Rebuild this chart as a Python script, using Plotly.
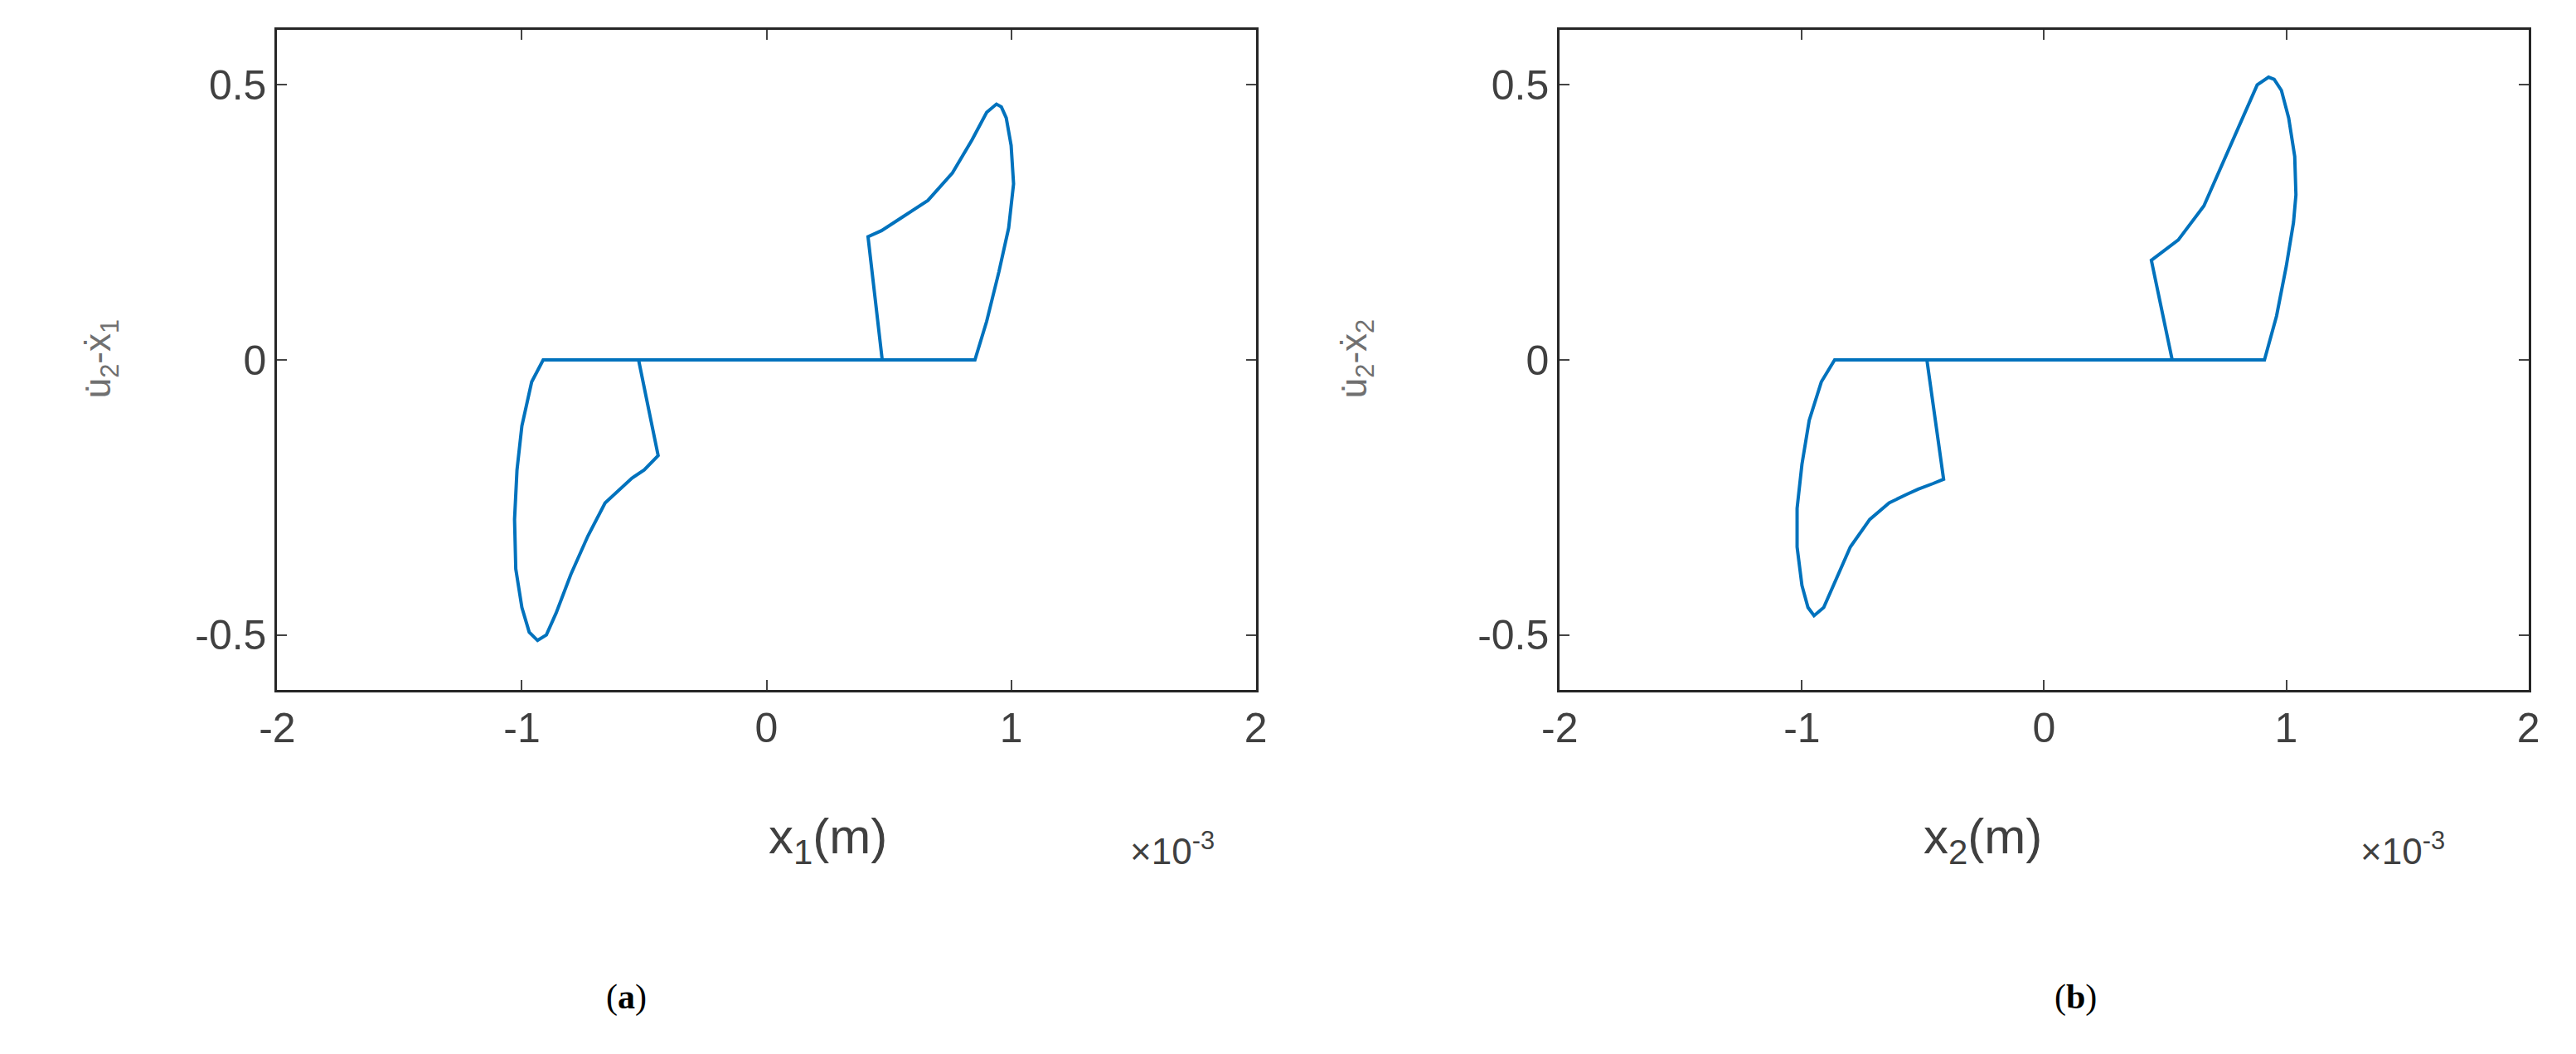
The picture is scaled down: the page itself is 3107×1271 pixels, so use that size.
import plotly.graph_objects as go

# trajectory points, x in units of 1e-3 m
x1 = [-0.52, -0.913, -0.96, -1.0, -1.02, -1.03, -1.025, -1.0, -0.97, -0.936, -0.9, -0.86, -0.8, -0.73,
      -0.66, -0.6, -0.55, -0.5, -0.443, -0.523, -0.523, 0.852, 0.9, 0.95, 0.99, 1.01, 1.0, 0.98,
      0.96, 0.94, 0.9, 0.84, 0.76, 0.66, 0.557, 0.47, 0.415, 0.473, 0.473, 0.852]
y1 = [0, 0, -0.04, -0.12, -0.2, -0.29, -0.38, -0.45, -0.495, -0.51, -0.5, -0.46, -0.39, -0.32,
      -0.26, -0.235, -0.215, -0.2, -0.174, 0, 0, 0, 0.07, 0.16, 0.24, 0.32, 0.39, 0.44,
      0.46, 0.465, 0.45, 0.4, 0.34, 0.29, 0.26, 0.235, 0.224, 0, 0, 0]
x2 = [-0.484, -0.865, -0.92, -0.97, -1.0, -1.02, -1.02, -1.0, -0.975, -0.95, -0.91, -0.86, -0.8,
      -0.72, -0.64, -0.57, -0.52, -0.46, -0.415, -0.484, -0.484, 0.91, 0.96, 1.0, 1.03, 1.04, 1.035,
      1.01, 0.98, 0.95, 0.927, 0.88, 0.82, 0.75, 0.66, 0.554, 0.5, 0.443, 0.529, 0.529, 0.91]
y2 = [0, 0, -0.04, -0.11, -0.19, -0.27, -0.34, -0.41, -0.45, -0.465, -0.45, -0.4, -0.34,
      -0.29, -0.26, -0.245, -0.235, -0.225, -0.217, 0, 0, 0, 0.08, 0.17, 0.25, 0.3, 0.37,
      0.44, 0.49, 0.51, 0.514, 0.5, 0.44, 0.37, 0.28, 0.218, 0.2, 0.181, 0, 0, 0]
xticks = [-2, -1, 0, 1, 2]
yticks = [-0.5, 0, 0.5]

fig = go.Figure()
fig.add_trace(go.Scatter(x=x1, y=y1, mode="lines", line=dict(color="#0072BD", width=4),
                         xaxis="x", yaxis="y", showlegend=False))
fig.add_trace(go.Scatter(x=x2, y=y2, mode="lines", line=dict(color="#0072BD", width=4),
                         xaxis="x2", yaxis="y2", showlegend=False))

W, H = 3107, 1271
ax = dict(range=[-2, 2], tickvals=xticks, ticktext=[str(v) for v in xticks], ticks="inside",
          ticklen=12, tickwidth=2, showline=True, linecolor="#262626", linewidth=3, mirror="ticks",
          showgrid=False, zeroline=False, tickfont=dict(size=50, color="#404040"))
ay = dict(range=[-0.6, 0.6], tickvals=yticks, ticktext=["-0.5", "0", "0.5"], ticks="inside",
          ticklen=12, tickwidth=2, showline=True, linecolor="#262626", linewidth=3, mirror="ticks",
          showgrid=False, zeroline=False, tickfont=dict(size=50, color="#404040"))

fig.update_layout(
    width=W, height=H, paper_bgcolor="white", plot_bgcolor="white",
    font=dict(family="Liberation Sans", color="#404040"),
    margin=dict(l=0, r=0, t=0, b=0),
    xaxis=dict(ax, domain=[308 / W, 1502 / W], anchor="y"),
    yaxis=dict(ay, domain=[1 - 824 / H, 1 - 28 / H], anchor="x"),
    xaxis2=dict(ax, domain=[1873 / W, 3055 / W], anchor="y2"),
    yaxis2=dict(ay, domain=[1 - 824 / H, 1 - 28 / H], anchor="x2"),
)

labels = [
    (905 / W, "x<sub>1</sub>(m)", 1400 / W, "u\u0307<sub>2</sub>-x\u0307<sub>1</sub>", 62 / W, 707 / W, "(<b>a</b>)"),
    (2464 / W, "x<sub>2</sub>(m)", 2955 / W, "u\u0307<sub>2</sub>-x\u0307<sub>2</sub>", 1625 / W, 2530 / W, "(<b>b</b>)"),
]
for xc, xt, xe, yt, xy, xl, lab in labels:
    fig.add_annotation(text=xt, x=xc, y=1 - 1045 / H, xref="paper", yref="paper", showarrow=False,
                       font=dict(size=60, color="#404040"))
    fig.add_annotation(text="\u00d710<sup>-3</sup>", x=xe, y=1 - 1045 / H, xref="paper", yref="paper",
                       showarrow=False, font=dict(size=44, color="#404040"))
    fig.add_annotation(text=yt, x=xy, y=1 - 425 / H, xref="paper", yref="paper", showarrow=False,
                       textangle=-90, font=dict(size=44, color="#707070"))
    fig.add_annotation(text=lab, x=xl, y=1 - 1220 / H, xref="paper", yref="paper", showarrow=False,
                       font=dict(size=42, color="black", family="Liberation Serif"))

fig.write_html("out.html")
